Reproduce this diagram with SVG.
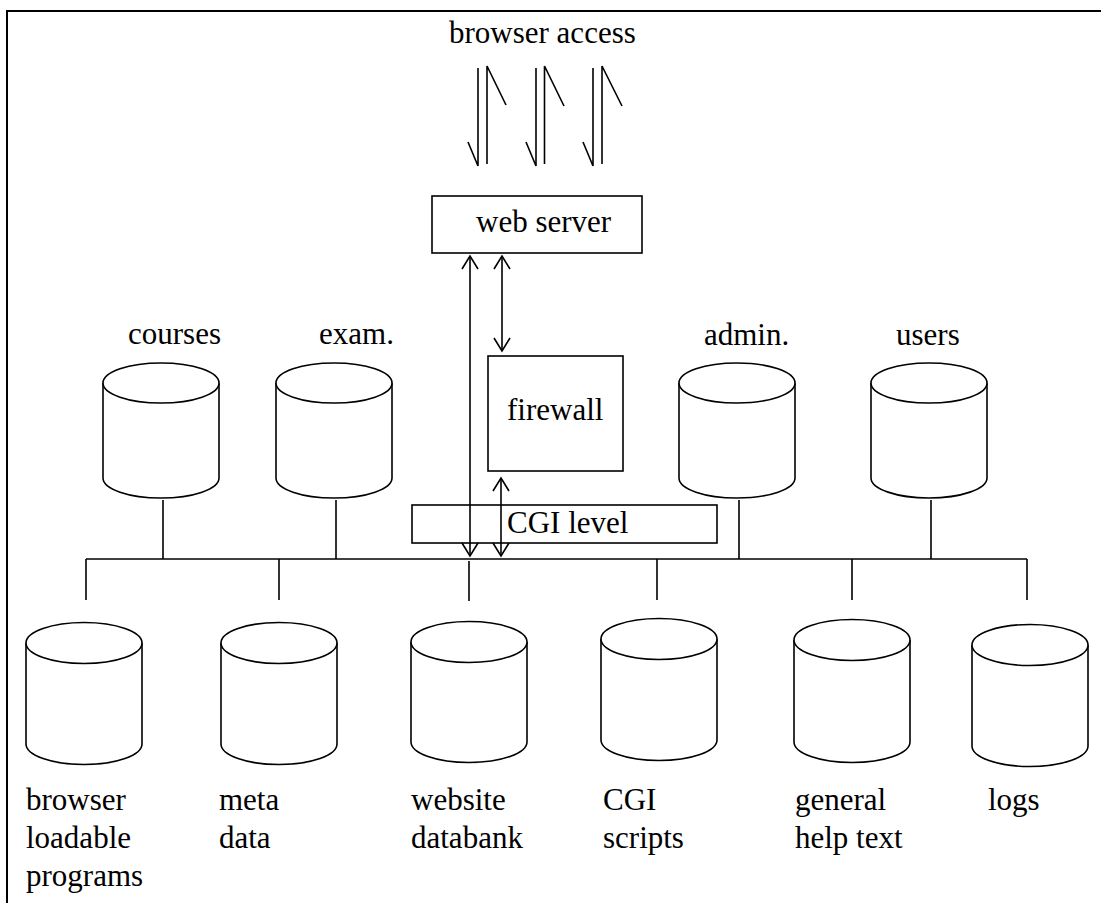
<svg xmlns="http://www.w3.org/2000/svg" width="1101" height="903" viewBox="0 0 1101 903">
<style>
.t{font-family:"Liberation Serif","Times New Roman",Times,"DejaVu Serif","Noto Serif",serif;font-size:31px;fill:#000}
.s{fill:none;stroke:#000;stroke-width:1.6}
.c{fill:#fff;stroke:#000;stroke-width:1.6}
</style>
<defs>
<marker id="ah" viewBox="-15 -10 17 20" refX="0" refY="0" markerWidth="17" markerHeight="20" markerUnits="userSpaceOnUse" orient="auto-start-reverse">
<path d="M-13,-8 L0,0 L-13,8" fill="none" stroke="#000" stroke-width="1.6"/>
</marker>
</defs>
<rect x="0" y="0" width="1101" height="903" fill="#fff"/>
<rect id="frame" x="7" y="11" width="1200" height="1000" fill="none" stroke="#000" stroke-width="2"/>

<g id="connectors" class="s">
<path d="M478,68 V166 M468,142 L478,166"/>
<path d="M487,164 V66 L506,105"/>
<path d="M536,68 V166 M526,142 L536,166"/>
<path d="M544.5,164 V66 L564,106"/>
<path d="M593,68 V166 M583,142 L593,166"/>
<path d="M602,164 V66 L622,106"/>
<line x1="470" y1="256" x2="470" y2="556" marker-start="url(#ah)" marker-end="url(#ah)"/>
<line x1="502" y1="256" x2="502" y2="351" marker-start="url(#ah)" marker-end="url(#ah)"/>
<line x1="501" y1="478" x2="501" y2="556" marker-start="url(#ah)" marker-end="url(#ah)"/>
<path d="M86,559 H1027"/>
<path d="M163,500 V559 M336,500 V559 M739,500 V559 M931,500 V559"/>
<path d="M86,559 V600 M279,559 V600 M469,561 V601 M657,559 V600 M852,559 V600 M1027,559 V600"/>
</g>

<g id="browser-access"><text class="t" x="449" y="43">browser access</text></g>
<g id="web-server"><rect class="s" x="432" y="196" width="210" height="57"/><text class="t" x="476" y="232">web server</text></g>
<g id="firewall"><rect class="s" x="488" y="356" width="135" height="115"/><text class="t" x="507" y="420">firewall</text></g>
<g id="cgi-level"><rect class="s" x="412" y="505" width="305" height="38"/><text class="t" x="507" y="533">CGI level</text></g>

<g id="courses">
<path class="c" d="M103,383 V478 A58,20 0 0 0 219,478 V383"/><ellipse class="c" cx="161" cy="383" rx="58" ry="20"/>
<text class="t" x="128" y="344">courses</text></g>
<g id="exam">
<path class="c" d="M276,383 V478 A58,20 0 0 0 392,478 V383"/><ellipse class="c" cx="334" cy="383" rx="58" ry="20"/>
<text class="t" x="319" y="344">exam.</text></g>
<g id="admin">
<path class="c" d="M679,383 V478 A58,20 0 0 0 795,478 V383"/><ellipse class="c" cx="737" cy="383" rx="58" ry="20"/>
<text class="t" x="704" y="345">admin.</text></g>
<g id="users">
<path class="c" d="M871,383 V478 A58,20 0 0 0 987,478 V383"/><ellipse class="c" cx="929" cy="383" rx="58" ry="20"/>
<text class="t" x="896" y="345">users</text></g>

<g id="browser-loadable">
<path class="c" d="M26,643 V744 A58,20.5 0 0 0 142,744 V643"/><ellipse class="c" cx="84" cy="643" rx="58" ry="20.5"/>
<text class="t" x="26" y="810">browser</text><text class="t" x="26" y="848">loadable</text><text class="t" x="26" y="886">programs</text></g>
<g id="meta-data">
<path class="c" d="M221,643 V744 A58,20.5 0 0 0 337,744 V643"/><ellipse class="c" cx="279" cy="643" rx="58" ry="20.5"/>
<text class="t" x="219" y="810">meta</text><text class="t" x="219" y="848">data</text></g>
<g id="website-databank">
<path class="c" d="M411,642 V742 A58,20.5 0 0 0 527,742 V642"/><ellipse class="c" cx="469" cy="642" rx="58" ry="20.5"/>
<text class="t" x="411" y="810">website</text><text class="t" x="411" y="848">databank</text></g>
<g id="cgi-scripts">
<path class="c" d="M601,639 V740 A58,20.5 0 0 0 717,740 V639"/><ellipse class="c" cx="659" cy="639" rx="58" ry="20.5"/>
<text class="t" x="603" y="810">CGI</text><text class="t" x="603" y="848">scripts</text></g>
<g id="general-help">
<path class="c" d="M794,640 V742 A58,20.5 0 0 0 910,742 V640"/><ellipse class="c" cx="852" cy="640" rx="58" ry="20.5"/>
<text class="t" x="795" y="810">general</text><text class="t" x="795" y="848">help text</text></g>
<g id="logs">
<path class="c" d="M972,645 V746 A58,20.5 0 0 0 1088,746 V645"/><ellipse class="c" cx="1030" cy="645" rx="58" ry="20.5"/>
<text class="t" x="988" y="810">logs</text></g>
</svg>
